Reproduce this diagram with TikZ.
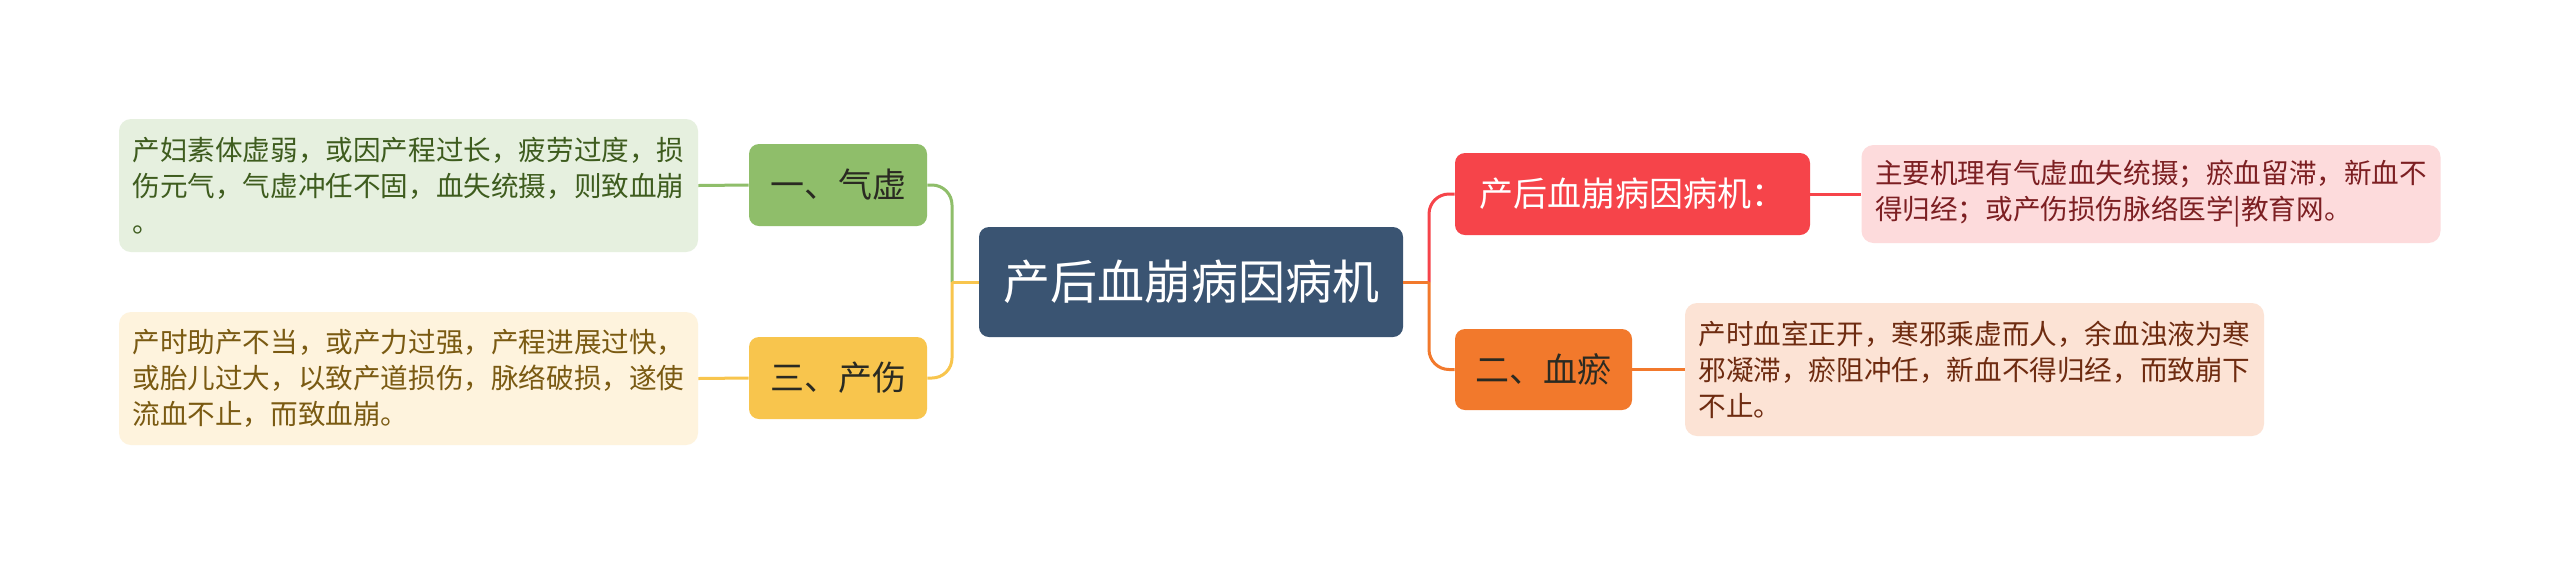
\documentclass[tikz,border=0pt]{standalone}
\usepackage{fontspec}
\setmainfont{Noto Sans CJK SC}
\definecolor{rootc}{HTML}{3A5472}
\definecolor{gboxc}{HTML}{8FBE6A}
\definecolor{gleafc}{HTML}{E6F0DF}
\definecolor{gtextc}{HTML}{3E5C1E}
\definecolor{yboxc}{HTML}{F8C54D}
\definecolor{yleafc}{HTML}{FEF3DD}
\definecolor{ytextc}{HTML}{7A5A12}
\definecolor{rboxc}{HTML}{F6444A}
\definecolor{rleafc}{HTML}{FDDBDC}
\definecolor{rtextc}{HTML}{7C1F22}
\definecolor{oboxc}{HTML}{F2792C}
\definecolor{oleafc}{HTML}{FCE3D5}
\definecolor{otextc}{HTML}{6E2B10}
\definecolor{darktxt}{HTML}{2A2A22}
\begin{document}
\begin{tikzpicture}[x=0.5pt,y=-0.5pt,
  box/.style={rounded corners=5pt, inner sep=0pt, align=center,
    font=\fontsize{17pt}{20pt}\selectfont},
  leaf/.style={rounded corners=6pt, inner sep=0pt, minimum width=289.5pt,
    text width=276pt, align=left, font=\fontsize{13.8pt}{18pt}\selectfont},
  conn/.style={line width=1.5pt},
  corner/.style={conn, rounded corners=10pt}]
\fill[white] (0,0) rectangle (2560,564);
\useasboundingbox (0,0) rectangle (2560,564);
% root
\node[box, fill=rootc, text=white, minimum width=212pt, minimum height=55pt,
  rounded corners=5pt, font=\fontsize{23.5pt}{26pt}\selectfont] (root) at (1191,282) {产后血崩病因病机};
% left branches
\node[box, fill=gboxc, text=darktxt, minimum width=89pt, minimum height=41pt] (q1) at (838,185) {一、气虚};
\node[box, fill=yboxc, text=darktxt, minimum width=89pt, minimum height=41pt] (q3) at (838,378) {三、产伤};
\node[leaf, fill=gleafc, text=gtextc, minimum height=66.5pt] (l1) at (408.5,185.5)
  {产妇素体虚弱，或因产程过长，疲劳过度，损\\伤元气，气虚冲任不固，血失统摄，则致血崩\\。};
\node[leaf, fill=yleafc, text=ytextc, minimum height=66.5pt] (l3) at (408.5,378.5)
  {产时助产不当，或产力过强，产程进展过快，\\或胎儿过大，以致产道损伤，脉络破损，遂使\\流血不止，而致血崩。};
% right branches
\node[box, fill=rboxc, text=white, minimum width=177.5pt, minimum height=41pt] (r1) at (1632.5,194) {产后血崩病因病机：};
\node[box, fill=oboxc, text=darktxt, minimum width=88.5pt, minimum height=40.5pt] (r2) at (1543.5,369.5) {二、血瘀};
\node[leaf, fill=rleafc, text=rtextc, minimum height=49pt] (p1) at (2151,194)
  {主要机理有气虚血失统摄；瘀血留滞，新血不\\得归经；或产伤损伤脉络医学|教育网。};
\node[leaf, fill=oleafc, text=otextc, minimum height=66.5pt] (p2) at (1974.5,369.5)
  {产时血室正开，寒邪乘虚而人，余血浊液为寒\\邪凝滞，瘀阻冲任，新血不得归经，而致崩下\\不止。};
% junctions
\coordinate (lj) at (952,282);
\coordinate (rj) at (1429,282);
% left connectors
\draw[corner, gboxc] (lj) |- (q1.east);
\draw[corner, yboxc] (lj) |- (q3.east);
\draw[conn, yboxc] (root.west) -- (lj);
\draw[conn, gboxc] (q1.west) -- (l1.east);
\draw[conn, yboxc] (q3.west) -- (l3.east);
% right connectors
\draw[corner, rboxc] (rj) |- (r1.west);
\draw[corner, oboxc] (rj) |- (r2.west);
\draw[conn, oboxc] (root.east) -- (rj);
\draw[conn, rboxc] (r1.east) -- (p1.west);
\draw[conn, oboxc] (r2.east) -- (p2.west);
\end{tikzpicture}
\end{document}
